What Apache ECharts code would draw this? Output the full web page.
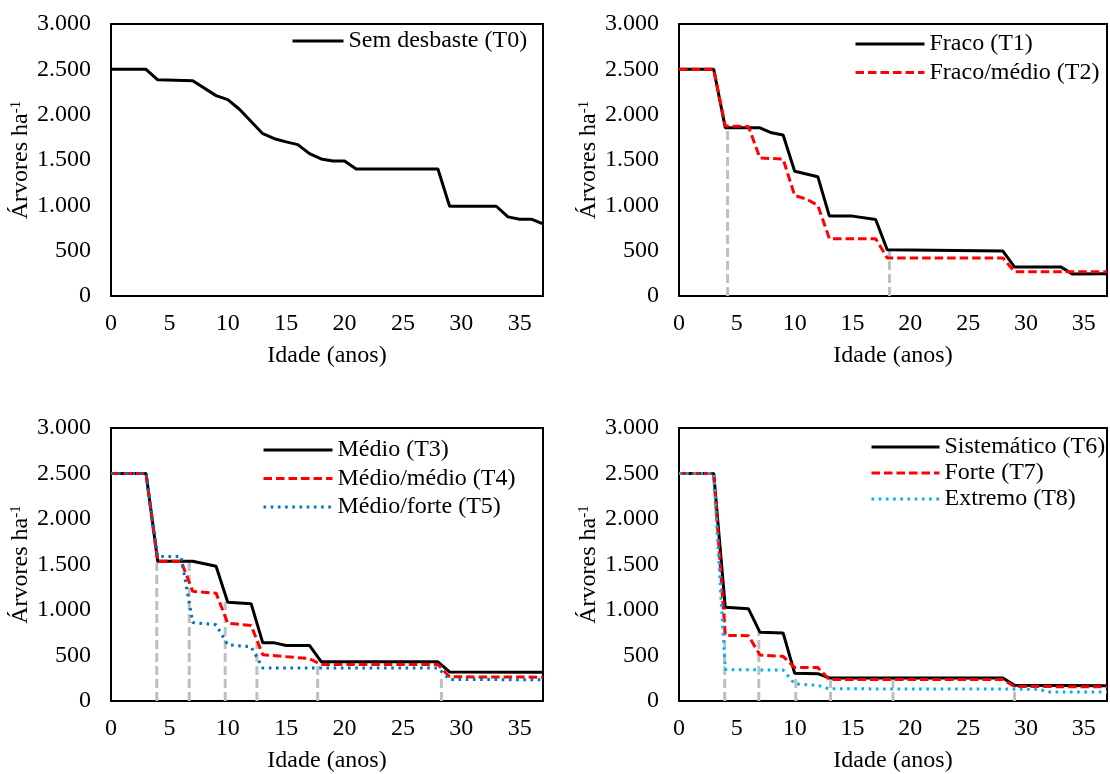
<!DOCTYPE html>
<html>
<head>
<meta charset="utf-8">
<title>Árvores ha-1 por idade</title>
<script src="https://cdn.jsdelivr.net/npm/echarts@6/dist/echarts.min.js"></script>
<style>
  html, body { margin: 0; padding: 0; background: #fff; }
  #chart { width: 1110px; height: 774px; }
</style>
</head>
<body>
<div id="chart"></div>
<script>
// eixos
const xTicks = [0, 5, 10, 15, 20, 25, 30, 35];
const xMax = 37;
const yTicks = [0, 500, 1000, 1500, 2000, 2500, 3000];

// Sem desbaste (T0)
const t0Age = [0, 3, 4, 7, 9, 10, 11, 13, 14, 15, 16, 17, 18, 19, 20, 21, 28, 29, 33, 34, 35, 36, 37];
const t0Val = [2500, 2500, 2385, 2375, 2210, 2165, 2060, 1790, 1735, 1700, 1670, 1570, 1512, 1490, 1490, 1400, 1400, 990, 990, 873, 847, 847, 795];

// Fraco (T1), Fraco/médio (T2)
const t1Age = [0, 3, 4, 7, 8, 9, 10, 12, 13, 15, 17, 18, 28, 29, 33, 34, 37];
const t1Val = [2500, 2500, 1855, 1855, 1800, 1775, 1376, 1316, 881, 881, 844, 510, 495, 321, 321, 242, 245];
const t2Age = [0, 3, 4, 6, 7, 9, 10, 11, 12, 13, 17, 18, 28, 29, 37];
const t2Val = [2500, 2500, 1875, 1870, 1522, 1511, 1108, 1070, 1000, 632, 632, 420, 420, 268, 268];

// Médio (T3), Médio/médio (T4), Médio/forte (T5)
const t3Age = [0, 3, 4, 7, 8, 9, 10, 12, 13, 14, 15, 17, 18, 28, 29, 37];
const t3Val = [2500, 2500, 1535, 1535, 1509, 1480, 1085, 1070, 639, 639, 610, 610, 432, 430, 320, 317];
const t4Age = [0, 3, 4, 6, 7, 9, 10, 12, 13, 17, 18, 28, 29, 37];
const t4Val = [2500, 2500, 1535, 1535, 1205, 1185, 855, 830, 508, 466, 400, 400, 266, 262];
const t5Age = [0, 3, 4, 6, 7, 9, 10, 12, 13, 28, 29, 37];
const t5Val = [2500, 2500, 1588, 1588, 862, 838, 618, 595, 362, 362, 236, 234];

// Sistemático (T6), Forte (T7), Extremo (T8)
const t6Age = [0, 3, 4, 6, 7, 9, 10, 12, 13, 28, 29, 37];
const t6Val = [2500, 2500, 1030, 1015, 755, 748, 305, 300, 253, 253, 172, 168];
const t7Age = [0, 3, 4, 6, 7, 9, 10, 12, 13, 28, 29, 37];
const t7Val = [2500, 2500, 721, 718, 505, 491, 367, 367, 235, 235, 160, 155];
const t8Age = [0, 3, 4, 9, 10, 12, 13, 31, 32, 37];
const t8Val = [2500, 2500, 345, 340, 188, 172, 134, 130, 100, 100];

// desbastes (linhas cinza tracejadas): idade e topo
const cut2Age = [4.2, 18.2];
const cut2Top = [1850, 505];
const cut3Age = [3.92, 6.7, 9.78, 12.5, 17.7, 28.3];
const cut3Top = [1535, 1535, 1085, 650, 400, 290];
const cut4Age = [3.95, 6.9, 10.1, 13.1, 18.5, 29.0];
const cut4Top = [1030, 752, 318, 227, 245, 190];

const FONT = 'Liberation Serif';

function pairs(ages, vals) {
  return ages.map((a, i) => [a, vals[i]]);
}

function fmtThousand(v) {
  if (v < 1000) return String(v);
  return Math.floor(v / 1000) + '.' + String(v % 1000).padStart(3, '0');
}

const grids = [
  { left: 111, top: 24, width: 432, height: 272 },
  { left: 679, top: 24, width: 433, height: 272 },
  { left: 111, top: 428, width: 432, height: 273 },
  { left: 679, top: 428, width: 433, height: 273 }
].map(g => Object.assign(g, { show: true, borderColor: '#000', borderWidth: 2, backgroundColor: '#fff' }));

const xAxes = grids.map((g, i) => ({
  type: 'value',
  gridIndex: i,
  min: 0,
  max: xMax,
  interval: 5,
  name: 'Idade (anos)',
  nameLocation: 'middle',
  nameGap: 48,
  nameTextStyle: { fontFamily: FONT, fontSize: 24, color: '#000' },
  axisLine: { show: false },
  axisTick: { show: false },
  splitLine: { show: false },
  axisLabel: {
    margin: 16,
    fontFamily: FONT,
    fontSize: 24,
    color: '#000',
    formatter: v => (xTicks.indexOf(v) >= 0 ? String(v) : '')
  }
}));

const yAxes = grids.map((g, i) => ({
  type: 'value',
  gridIndex: i,
  min: yTicks[0],
  max: yTicks[yTicks.length - 1],
  interval: 500,
  name: '{a|Árvores ha}{s|-1}',
  nameLocation: 'middle',
  nameGap: 65,
  nameTextStyle: {
    color: '#000',
    rich: {
      a: { fontFamily: FONT, fontSize: 24, color: '#000' },
      s: { fontFamily: FONT, fontSize: 15, color: '#000', verticalAlign: 'top', padding: [0, 0, 10, 0] }
    }
  },
  axisLine: { show: false },
  axisTick: { show: false },
  splitLine: { show: false },
  axisLabel: {
    margin: 20,
    fontFamily: FONT,
    fontSize: 24,
    color: '#000',
    formatter: fmtThousand
  }
}));

const series = [];

function cutLines(ages, tops, idx) {
  ages.forEach((a, k) => {
    series.push({
      type: 'line',
      xAxisIndex: idx,
      yAxisIndex: idx,
      symbol: 'none',
      silent: true,
      z: 1,
      lineStyle: { color: '#bfbfbf', width: 3, type: [9, 4] },
      data: [[a, 0], [a, tops[k]]]
    });
  });
}

cutLines(cut2Age, cut2Top, 1);
cutLines(cut3Age, cut3Top, 2);
cutLines(cut4Age, cut4Top, 3);

const solid = { color: '#000', width: 3, type: 'solid' };
const dashed = { color: '#ff0000', width: 3, type: [8.5, 4] };
const dotted = c => ({ color: c, width: 3, type: [2.6, 4.6] });

function curve(name, ages, vals, idx, style) {
  series.push({
    name: name,
    type: 'line',
    xAxisIndex: idx,
    yAxisIndex: idx,
    symbol: 'none',
    z: 3,
    lineStyle: style,
    itemStyle: { color: style.color },
    data: pairs(ages, vals)
  });
}

curve('Sem desbaste (T0)', t0Age, t0Val, 0, solid);
curve('Fraco (T1)', t1Age, t1Val, 1, solid);
curve('Fraco/médio (T2)', t2Age, t2Val, 1, dashed);
curve('Médio (T3)', t3Age, t3Val, 2, solid);
curve('Médio/médio (T4)', t4Age, t4Val, 2, dashed);
curve('Médio/forte (T5)', t5Age, t5Val, 2, dotted('#0070c0'));
curve('Sistemático (T6)', t6Age, t6Val, 3, solid);
curve('Forte (T7)', t7Age, t7Val, 3, dashed);
curve('Extremo (T8)', t8Age, t8Val, 3, dotted('#00b0f0'));

function legend(names, left, top, w, gap) {
  return {
    data: names,
    left: left,
    top: top,
    padding: 0,
    orient: 'vertical',
    itemWidth: w,
    itemHeight: 14,
    itemGap: gap,
    selectedMode: false,
    // só a linha, sem o símbolo circular
    itemStyle: { opacity: 0 },
    lineStyle: { width: 3 },
    textStyle: { fontFamily: FONT, fontSize: 24, color: '#000' }
  };
}

const chart = echarts.init(document.getElementById('chart'));
chart.setOption({
  animation: false,
  backgroundColor: '#fff',
  grid: grids,
  xAxis: xAxes,
  yAxis: yAxes,
  legend: [
    legend(['Sem desbaste (T0)'], 291, 29, 51, 4),
    legend(['Fraco (T1)', 'Fraco/médio (T2)'], 854, 32, 69, 4.5),
    legend(['Médio (T3)', 'Médio/médio (T4)', 'Médio/forte (T5)'], 262, 438, 69, 4.5),
    legend(['Sistemático (T6)', 'Forte (T7)', 'Extremo (T8)'], 870, 435, 68, 2)
  ],
  series: series
});
</script>
</body>
</html>
